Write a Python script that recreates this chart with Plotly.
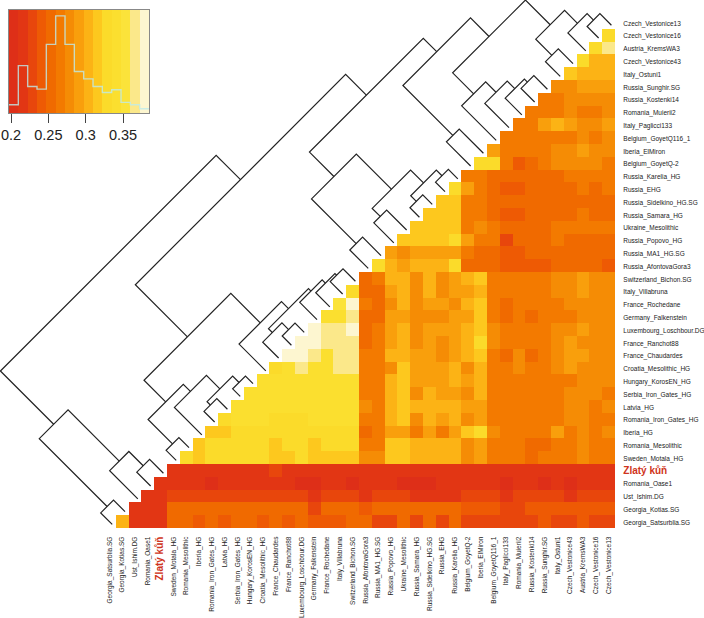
import plotly.graph_objects as go

labels = ["Georgia_Satsurblia.SG","Georgia_Kotias.SG","Ust_Ishim.DG","Romania_Oase1","Zlatý kůň",
 "Sweden_Motala_HG","Romania_Mesolithic","Iberia_HG","Romania_Iron_Gates_HG","Latvia_HG",
 "Serbia_Iron_Gates_HG","Hungary_KorosEN_HG","Croatia_Mesolithic_HG","France_Chaudardes","France_Ranchot88",
 "Luxembourg_Loschbour.DG","Germany_Falkenstein","France_Rochedane","Italy_Villabruna","Switzerland_Bichon.SG",
 "Russia_AfontovaGora3","Russia_MA1_HG.SG","Russia_Popovo_HG","Ukraine_Mesolithic","Russia_Samara_HG",
 "Russia_Sidelkino_HG.SG","Russia_EHG","Russia_Karelia_HG","Belgium_GoyetQ-2","Iberia_ElMiron",
 "Belgium_GoyetQ116_1","Italy_Paglicci133","Romania_Muierii2","Russia_Kostenki14","Russia_Sunghir.SG",
 "Italy_Ostuni1","Czech_Vestonice43","Austria_KremsWA3","Czech_Vestonice16","Czech_Vestonice13"]

# Pairwise values, one list per row from the bottom row up; each row runs from just right of the diagonal to the right edge
row_00 = [.30,.21,.21,.21,.25,.25,.24,.25,.24,.25,.25,.24,.25,.24,.25,.24,.24,.24,.25,.25,.23,.23,.25,.23,.25,.23,.25,.23,.23,.23,.23,.23,.23,.24,.23,.23,.24,.23,.23]
row_01 = [.21,.21,.21,.25,.25,.25,.25,.25,.25,.25,.25,.25,.25,.25,.23,.25,.25,.25,.24,.25,.25,.25,.25,.25,.25,.25,.24,.24,.24,.23,.23,.24,.24,.24,.24,.24,.24,.24]
row_02 = [.21,.21,.23,.23,.23,.23,.23,.23,.23,.23,.23,.23,.23,.21,.23,.23,.23,.21,.23,.23,.23,.21,.21,.21,.21,.23,.23,.23,.21,.23,.23,.23,.23,.21,.23,.23,.23]
row_03 = [.21,.21,.21,.21,.20,.21,.21,.21,.21,.21,.21,.20,.20,.21,.21,.20,.21,.21,.21,.20,.20,.20,.21,.21,.21,.21,.21,.20,.21,.21,.20,.21,.20,.21,.21,.21]
row_04 = [.21,.21,.21,.21,.21,.21,.21,.21,.23,.21,.21,.21,.21,.21,.21,.21,.21,.21,.21,.21,.21,.21,.21,.21,.21,.21,.21,.21,.21,.21,.21,.21,.21,.21,.21]
row_05 = [.33,.32,.33,.33,.33,.33,.33,.32,.32,.33,.32,.32,.32,.32,.28,.28,.32,.32,.30,.30,.30,.30,.28,.29,.27,.27,.27,.25,.27,.27,.27,.28,.27,.27]
row_06 = [.32,.33,.33,.33,.33,.33,.32,.33,.33,.32,.33,.33,.33,.27,.27,.32,.32,.30,.30,.30,.30,.28,.29,.27,.27,.27,.25,.25,.27,.27,.28,.27,.27]
row_07 = [.32,.32,.33,.33,.33,.33,.33,.33,.33,.33,.33,.33,.25,.27,.29,.29,.27,.29,.27,.29,.32,.33,.28,.27,.27,.27,.27,.29,.27,.28,.27,.28]
row_08 = [.33,.34,.34,.34,.33,.33,.33,.34,.34,.34,.34,.27,.27,.30,.32,.28,.30,.29,.30,.28,.29,.27,.27,.27,.27,.27,.27,.28,.28,.27,.27]
row_09 = [.34,.34,.34,.34,.34,.34,.34,.34,.34,.34,.28,.27,.30,.32,.30,.30,.30,.30,.29,.29,.27,.27,.27,.27,.27,.27,.28,.28,.27,.28]
row_10 = [.34,.34,.34,.34,.34,.34,.34,.34,.34,.27,.27,.30,.32,.28,.30,.29,.29,.28,.30,.27,.27,.27,.27,.27,.27,.28,.28,.28,.27]
row_11 = [.34,.34,.34,.34,.34,.34,.34,.34,.27,.27,.30,.32,.29,.29,.29,.30,.29,.30,.27,.27,.27,.27,.27,.27,.27,.28,.28,.28]
row_12 = [.33,.34,.37,.34,.34,.37,.37,.27,.27,.28,.32,.29,.29,.29,.30,.28,.30,.27,.27,.28,.27,.27,.28,.29,.28,.28,.28]
row_13 = [.38,.38,.37,.34,.37,.37,.27,.27,.30,.30,.29,.29,.28,.29,.30,.32,.27,.25,.28,.25,.27,.28,.29,.29,.28,.28]
row_14 = [.38,.38,.37,.37,.37,.25,.27,.29,.30,.28,.29,.28,.29,.30,.33,.28,.27,.27,.27,.27,.28,.29,.28,.28,.28]
row_15 = [.38,.37,.37,.38,.25,.27,.29,.30,.28,.29,.29,.29,.30,.32,.28,.27,.27,.27,.27,.28,.28,.29,.28,.28]
row_16 = [.34,.34,.37,.25,.25,.29,.29,.28,.28,.28,.29,.29,.32,.27,.25,.27,.25,.27,.27,.27,.28,.28,.28]
row_17 = [.35,.38,.27,.25,.28,.30,.28,.29,.29,.28,.30,.32,.27,.25,.27,.27,.27,.27,.28,.28,.28,.28]
row_18 = [.33,.25,.25,.29,.30,.28,.30,.28,.29,.29,.30,.27,.27,.27,.27,.27,.28,.28,.29,.28,.28]
row_19 = [.25,.27,.30,.30,.28,.30,.28,.29,.30,.32,.27,.27,.27,.27,.27,.28,.28,.29,.28,.28]
row_20 = [.33,.30,.29,.30,.30,.30,.33,.25,.25,.25,.24,.24,.24,.24,.25,.25,.25,.25,.24]
row_21 = [.29,.28,.29,.29,.29,.29,.27,.25,.25,.24,.24,.25,.25,.25,.25,.25,.25,.25]
row_22 = [.32,.32,.32,.32,.33,.29,.27,.27,.23,.25,.25,.25,.27,.25,.25,.25,.25]
row_23 = [.32,.32,.32,.32,.27,.28,.27,.25,.25,.25,.25,.27,.27,.27,.27,.27]
row_24 = [.32,.32,.32,.27,.27,.25,.24,.24,.25,.25,.25,.25,.27,.25,.25]
row_25 = [.32,.32,.27,.27,.25,.25,.25,.25,.25,.25,.25,.25,.25,.25]
row_26 = [.33,.29,.27,.25,.24,.24,.25,.25,.25,.25,.27,.25,.27]
row_27 = [.27,.27,.25,.25,.25,.25,.25,.25,.27,.27,.27,.27]
row_28 = [.33,.33,.27,.24,.25,.27,.28,.28,.28,.28,.27]
row_29 = [.29,.27,.27,.27,.27,.28,.28,.29,.28,.28]
row_30 = [.27,.27,.27,.27,.27,.27,.28,.27,.28]
row_31 = [.27,.27,.29,.30,.29,.28,.28,.29]
row_32 = [.27,.27,.27,.28,.27,.27,.28]
row_33 = [.27,.27,.28,.28,.28,.28]
row_34 = [.28,.28,.29,.29,.29]
row_35 = [.32,.30,.30,.30]
row_36 = [.33,.30,.30]
row_37 = [.33,.37]
row_38 = [.33]

rows = [row_00,row_01,row_02,row_03,row_04,row_05,row_06,row_07,row_08,row_09,row_10,row_11,row_12,
        row_13,row_14,row_15,row_16,row_17,row_18,row_19,row_20,row_21,row_22,row_23,row_24,row_25,
        row_26,row_27,row_28,row_29,row_30,row_31,row_32,row_33,row_34,row_35,row_36,row_37,row_38]

# Tree: each merge joins two ids (0-39 leaf, 40+ earlier merge) at a height
merge_left  = [0,3,2,40,5,8,10,45,7,44,14,13,18,17,16,51,12,49,20,22,24,26,60,59,58,28,33,32,31,30,35,38,37,70,69,65,64,57,43]
merge_right = [1,4,41,42,6,9,11,46,47,48,15,50,19,52,53,54,55,56,21,23,25,27,61,62,63,29,34,66,67,68,36,39,71,72,73,74,75,76,77]
merge_height = [.68,.86,1.98,5.98,.57,.61,.37,.87,1.92,2.48,.50,1.02,.75,.88,1.13,1.32,1.87,4.17,1.22,1.34,.52,.52,.96,1.97,4.71,
                1.67,.84,1.08,1.67,2.48,.93,.68,1.18,2.19,4.12,5.57,6.62,8.24,10.14]
leaf_height = -0.22

# Colour key
key_min, key_bin = 0.1973, 0.0125
key_colors = ["#de2f18","#e23614","#e8460c","#ee5a04","#f06a00","#f37a00","#f58c05","#f99f0c","#fcb315",
              "#fdc81e","#fbdb2a","#fbdf2f","#fbe33a","#fbe88a","#fdf6d0"]
hist_counts = [25,143,80,72,207,293,207,125,103,80,62,70,32,25,13]
key_ticks = [0.2,0.25,0.3,0.35]

n = len(labels)
key_max = key_min + key_bin*len(key_colors)
cs = []
for i,c in enumerate(key_colors):
    cs += [[i/len(key_colors),c],[(i+1)/len(key_colors),c]]

z = [[None]*n for _ in range(n)]
for r,row in enumerate(rows):
    assert len(row)==n-1-r, (r,len(row))
    for k,v in enumerate(row):
        z[r][r+1+k] = v

pos = list(range(n))
centers = [i+0.5 for i in pos]

# dendrogram through the same data axes as the heatmap
node_c = {i:i+0.5 for i in range(n)}
node_h = {i:leaf_height for i in range(n)}
dx, dy = [], []
for m,(a,b,h) in enumerate(zip(merge_left,merge_right,merge_height)):
    ca,cb = node_c[a],node_c[b]
    dx += [ca-node_h[a], ca-h, cb-h, cb-node_h[b], None]
    dy += [ca+node_h[a], ca+h, cb+h, cb+node_h[b], None]
    node_c[n+m] = (ca+cb)/2
    node_h[n+m] = h

W,H = 704,618
unit = 12.8
x0,y0 = 103,528

def lab(s):
    if s.startswith("Zlat"):
        return f'<span style="color:#cf3420;font-size:10px"><b>{s}</b></span>'
    return s
tick = [lab(s) for s in labels]

fig = go.Figure()
fig.add_trace(go.Heatmap(x=centers,y=centers,z=z,zmin=key_min,zmax=key_max,colorscale=cs,showscale=False,hoverongaps=False,xaxis="x",yaxis="y"))
fig.add_trace(go.Scatter(x=dx,y=dy,mode="lines",line=dict(color="#222",width=1.2),connectgaps=False,showlegend=False,xaxis="x",yaxis="y"))
kc = [key_min+key_bin*(i+.5) for i in range(len(key_colors))]
fig.add_trace(go.Heatmap(x=kc,y=[0,max(hist_counts)*1.06],z=[kc,kc],zmin=key_min,zmax=key_max,colorscale=cs,showscale=False,xaxis="x2",yaxis="y2"))
ex = [key_min+key_bin*i for i in range(len(key_colors)+1)]
fig.add_trace(go.Scatter(x=ex,y=hist_counts+[hist_counts[-1]],mode="lines",line=dict(shape="hv",color="rgba(190,235,235,0.8)",width=1.4),showlegend=False,xaxis="x2",yaxis="y2"))

f = dict(family="Liberation Sans, Arial, sans-serif",color="#222")
fig.update_layout(
    width=W,height=H,margin=dict(l=0,r=0,t=0,b=0),paper_bgcolor="white",plot_bgcolor="rgba(0,0,0,0)",showlegend=False,
    xaxis=dict(automargin=False,domain=[0,1],range=[-x0/unit,(W-x0)/unit],anchor="free",position=(H-y0)/H,tickmode="array",tickvals=centers,ticktext=tick,
               tickangle=-90,tickfont=dict(size=6.5,**f),ticks="outside",ticklen=5,tickcolor="rgba(0,0,0,0)",showgrid=False,zeroline=False,showline=False),
    yaxis=dict(automargin=False,domain=[0,1],range=[(y0-H)/unit,y0/unit],anchor="free",position=(x0+n*unit)/W,side="right",tickmode="array",tickvals=centers,ticktext=tick,
               ticklabelshift=1,tickfont=dict(size=6.5,**f),ticks="outside",ticklen=6,tickcolor="rgba(0,0,0,0)",showgrid=False,zeroline=False,showline=False),
    xaxis2=dict(automargin=False,domain=[9/W,149/W],range=[key_min,key_max],anchor="y2",tickmode="array",tickvals=key_ticks,ticktext=[f"{t:g}" for t in key_ticks],
                tickfont=dict(size=14.5,family=f["family"],color="#222"),ticks="outside",ticklen=9,tickcolor="#444",tickwidth=1,
                showline=True,linecolor="#888",linewidth=1,mirror=True,showgrid=False,zeroline=False),
    yaxis2=dict(automargin=False,domain=[1-113/H,1-10/H],range=[0,max(hist_counts)*1.06],anchor="x2",showticklabels=False,ticks="",showline=True,linecolor="#888",linewidth=1,mirror=True,showgrid=False,zeroline=False),
)
fig.write_html("out.html",post_script="document.body.style.margin='0';",config={"displayModeBar":False})
